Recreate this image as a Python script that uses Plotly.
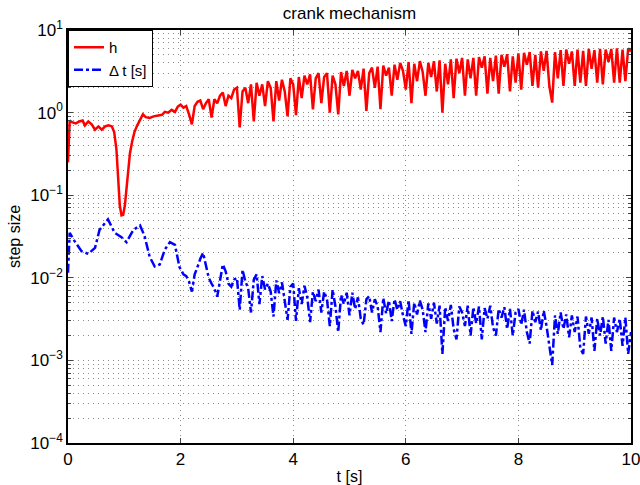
import numpy as np
import plotly.graph_objects as go

# ---- smooth start (t < 2) ----
t_h_start = [0, 0.03, 0.08, 0.14, 0.2, 0.26, 0.3, 0.36, 0.42, 0.48, 0.54, 0.6, 0.66, 0.72, 0.78,
             0.82, 0.86, 0.89, 0.92, 0.95, 0.98, 1.01, 1.04, 1.07, 1.1, 1.14, 1.18, 1.23, 1.28,
             1.33, 1.38, 1.45, 1.52, 1.6, 1.67, 1.72, 1.78, 1.84, 1.9, 1.95, 2.0]
h_start = [0.25, 0.8, 0.76, 0.74, 0.78, 0.8, 0.7, 0.78, 0.72, 0.62, 0.68, 0.62, 0.68, 0.7, 0.68,
           0.58, 0.36, 0.15, 0.075, 0.057, 0.058, 0.075, 0.12, 0.2, 0.32, 0.45, 0.58, 0.7, 0.8,
           0.95, 0.88, 0.86, 0.9, 0.92, 0.94, 1.02, 1.0, 1.08, 1.02, 1.18, 1.25]

t_dt_start = [0, 0.03, 0.12, 0.24, 0.36, 0.48, 0.56, 0.71, 0.83, 0.95, 1.04, 1.16, 1.28, 1.36,
              1.45, 1.54, 1.63, 1.72, 1.81, 1.9, 1.98]
dt_start = [0.0115, 0.035, 0.0276, 0.021, 0.0195, 0.023, 0.038, 0.051, 0.035, 0.031, 0.027,
            0.038, 0.043, 0.032, 0.018, 0.0137, 0.0145, 0.022, 0.027, 0.025, 0.0135]

# ---- oscillating part: sample times 2.05 ... 10.00 (step 0.05) ----
t_osc = np.round(np.linspace(2.05, 10.0, 160), 2)

h_osc = [
    1.15, 1.2, 0.95, 0.72, 1.2, 1.35, 1.4, 1.1, 1.3, 1.45,
    0.87, 1.45, 1.3, 1.6, 1.75, 1.2, 1.6, 1.5, 1.9, 2.0,
    0.66, 1.8, 2.0, 1.3, 2.2, 0.78, 2.3, 1.6, 2.2, 1.2,
    2.4, 2.0, 0.78, 2.4, 1.4, 2.5, 1.8, 0.9, 2.6, 2.2,
    0.93, 2.7, 1.5, 2.8, 2.2, 2.9, 1.09, 2.6, 3.0, 1.3,
    2.7, 3.0, 1.0, 2.8, 2.2, 0.95, 3.1, 2.1, 3.2, 1.6,
    3.3, 2.6, 3.2, 1.9, 3.4, 1.05, 3.0, 3.5, 2.0, 3.6,
    1.1, 3.7, 2.8, 3.5, 1.6, 3.8, 2.5, 4.0, 3.2, 1.9,
    4.1, 1.3, 3.9, 2.4, 4.2, 3.1, 1.6, 4.0, 2.7, 4.2,
    1.8, 4.3, 1.0, 3.9, 2.2, 4.4, 1.5, 4.5, 3.0, 4.6,
    1.6, 4.4, 2.6, 4.6, 1.6, 4.7, 3.5, 4.8, 1.7, 4.6,
    2.4, 4.9, 1.7, 5.0, 3.6, 5.1, 1.8, 4.8, 2.3, 5.2,
    1.9, 5.3, 3.8, 5.4, 2.1, 5.0, 2.0, 5.5, 3.2, 5.6,
    2.1, 1.32, 5.4, 2.6, 5.7, 2.1, 5.8, 3.9, 5.5, 2.1,
    5.8, 2.3, 5.6, 2.1, 5.9, 3.4, 5.7, 2.3, 5.9, 2.2,
    5.8, 4.1, 5.9, 2.3, 6.0, 2.3, 5.8, 2.4, 6.0, 5.5,
]

dt_osc = [
    0.011, 0.0105, 0.009, 0.0068, 0.011, 0.0135, 0.017, 0.020, 0.014, 0.010,
    0.0085, 0.0075, 0.0059, 0.0095, 0.0145, 0.012, 0.0085, 0.0078, 0.0095, 0.010,
    0.0041, 0.0125, 0.009, 0.0075, 0.0038, 0.0095, 0.011, 0.0048, 0.0105, 0.0072,
    0.0085, 0.0068, 0.0034, 0.0093, 0.0065, 0.0088, 0.0055, 0.0031, 0.0078, 0.0085,
    0.003, 0.0075, 0.0048, 0.008, 0.0058, 0.0029, 0.0068, 0.0052, 0.0072, 0.0038,
    0.0068, 0.0055, 0.0026, 0.0072, 0.0045, 0.0022, 0.0062, 0.0048, 0.0066, 0.0035,
    0.0066, 0.0042, 0.0058, 0.0032, 0.0027, 0.0055, 0.006, 0.0038, 0.0055, 0.0045,
    0.0022, 0.0057, 0.0037, 0.0053, 0.003, 0.0055, 0.0041, 0.0052, 0.0035, 0.0026,
    0.0054, 0.0021, 0.005, 0.0036, 0.0053, 0.0041, 0.0022, 0.0049, 0.0032, 0.005,
    0.0028, 0.0046, 0.0012, 0.0044, 0.003, 0.0047, 0.0024, 0.0018, 0.0045, 0.0038,
    0.0026, 0.0046, 0.002, 0.0044, 0.0028, 0.0045, 0.0018, 0.0043, 0.0032, 0.0046,
    0.0025, 0.002, 0.0042, 0.0033, 0.0044, 0.0024, 0.0042, 0.002, 0.0038, 0.0042,
    0.0027, 0.0041, 0.0022, 0.0016, 0.004, 0.0029, 0.0039, 0.0023, 0.004, 0.0026,
    0.0015, 0.00088, 0.0035, 0.0021, 0.0038, 0.0024, 0.0036, 0.0019, 0.0035, 0.0022,
    0.0034, 0.0014, 0.0012, 0.0034, 0.0021, 0.0033, 0.0013, 0.0032, 0.002, 0.0034,
    0.0016, 0.0031, 0.0013, 0.0033, 0.0022, 0.0032, 0.0015, 0.0033, 0.0012, 0.0022,
]

x_ticks = [0, 2, 4, 6, 8, 10]
y_tick_vals = [1e-4, 1e-3, 1e-2, 1e-1, 1e0, 1e1]
y_tick_text = ["10<sup>−4</sup>", "10<sup>−3</sup>", "10<sup>−2</sup>",
               "10<sup>−1</sup>", "10<sup>0</sup>", "10<sup>1</sup>"]

t_h = list(t_h_start) + list(t_osc)
h = list(h_start) + list(h_osc)
t_dt = list(t_dt_start) + list(t_osc)
dt = list(dt_start) + list(dt_osc)

minor_vals = [m * 10.0 ** e for e in range(-4, 1) for m in range(2, 10)]

FONT = "Liberation Sans"
GRID = "#8c8c8c"
DOT = "1px,4px"

fig = go.Figure()
fig.add_trace(go.Scatter(x=t_h, y=h, mode="lines", name="h",
                         line=dict(color="#ff0000", width=2.5)))
fig.add_trace(go.Scatter(x=t_dt, y=dt, mode="lines", name="Δ t [s]",
                         line=dict(color="#0000ff", width=2.5, dash="dashdot")))

fig.update_layout(
    width=640, height=485,
    margin=dict(l=68, r=9, t=30, b=42, autoexpand=False),
    paper_bgcolor="white", plot_bgcolor="white",
    font=dict(family=FONT, size=16, color="black"),
    title=dict(text="crank mechanism", x=0.546, xanchor="center",
               y=0.974, yanchor="middle", font=dict(family=FONT, size=17),
               automargin=False),
    showlegend=True,
    legend=dict(x=0, y=1, xanchor="left", yanchor="top",
                bgcolor="white", bordercolor="black", borderwidth=1,
                font=dict(family=FONT, size=15), tracegroupgap=0, itemwidth=30),
)
fig.update_xaxes(
    range=[0, 10], tickvals=x_ticks, ticks="inside", ticklen=5,
    showline=True, linecolor="black", linewidth=1.5, mirror="allticks",
    showgrid=True, gridcolor=GRID, griddash=DOT, gridwidth=1,
    zeroline=False, tickfont=dict(family=FONT, size=17), automargin=False,
    ticklabeloverflow="allow",
    title=dict(text="t [s]", standoff=10, font=dict(family=FONT, size=16)),
)
fig.update_yaxes(
    type="log", range=[-4, 1], tickvals=y_tick_vals, ticktext=y_tick_text,
    ticks="inside", ticklen=5,
    showline=True, linecolor="black", linewidth=1.5, mirror="allticks",
    showgrid=True, gridcolor=GRID, griddash=DOT, gridwidth=1,
    zeroline=False, tickfont=dict(family=FONT, size=17), automargin=False,
    ticklabeloverflow="allow",
    minor=dict(tickmode="array", tickvals=minor_vals, ticks="inside", ticklen=3,
               showgrid=True, gridcolor=GRID, griddash=DOT, gridwidth=1),
    title=dict(text="step size", standoff=6, font=dict(family=FONT, size=16)),
)

fig.write_html("out.html", config={"displayModeBar": False},
               post_script="document.body.style.margin='0';document.body.style.overflow='hidden';")
